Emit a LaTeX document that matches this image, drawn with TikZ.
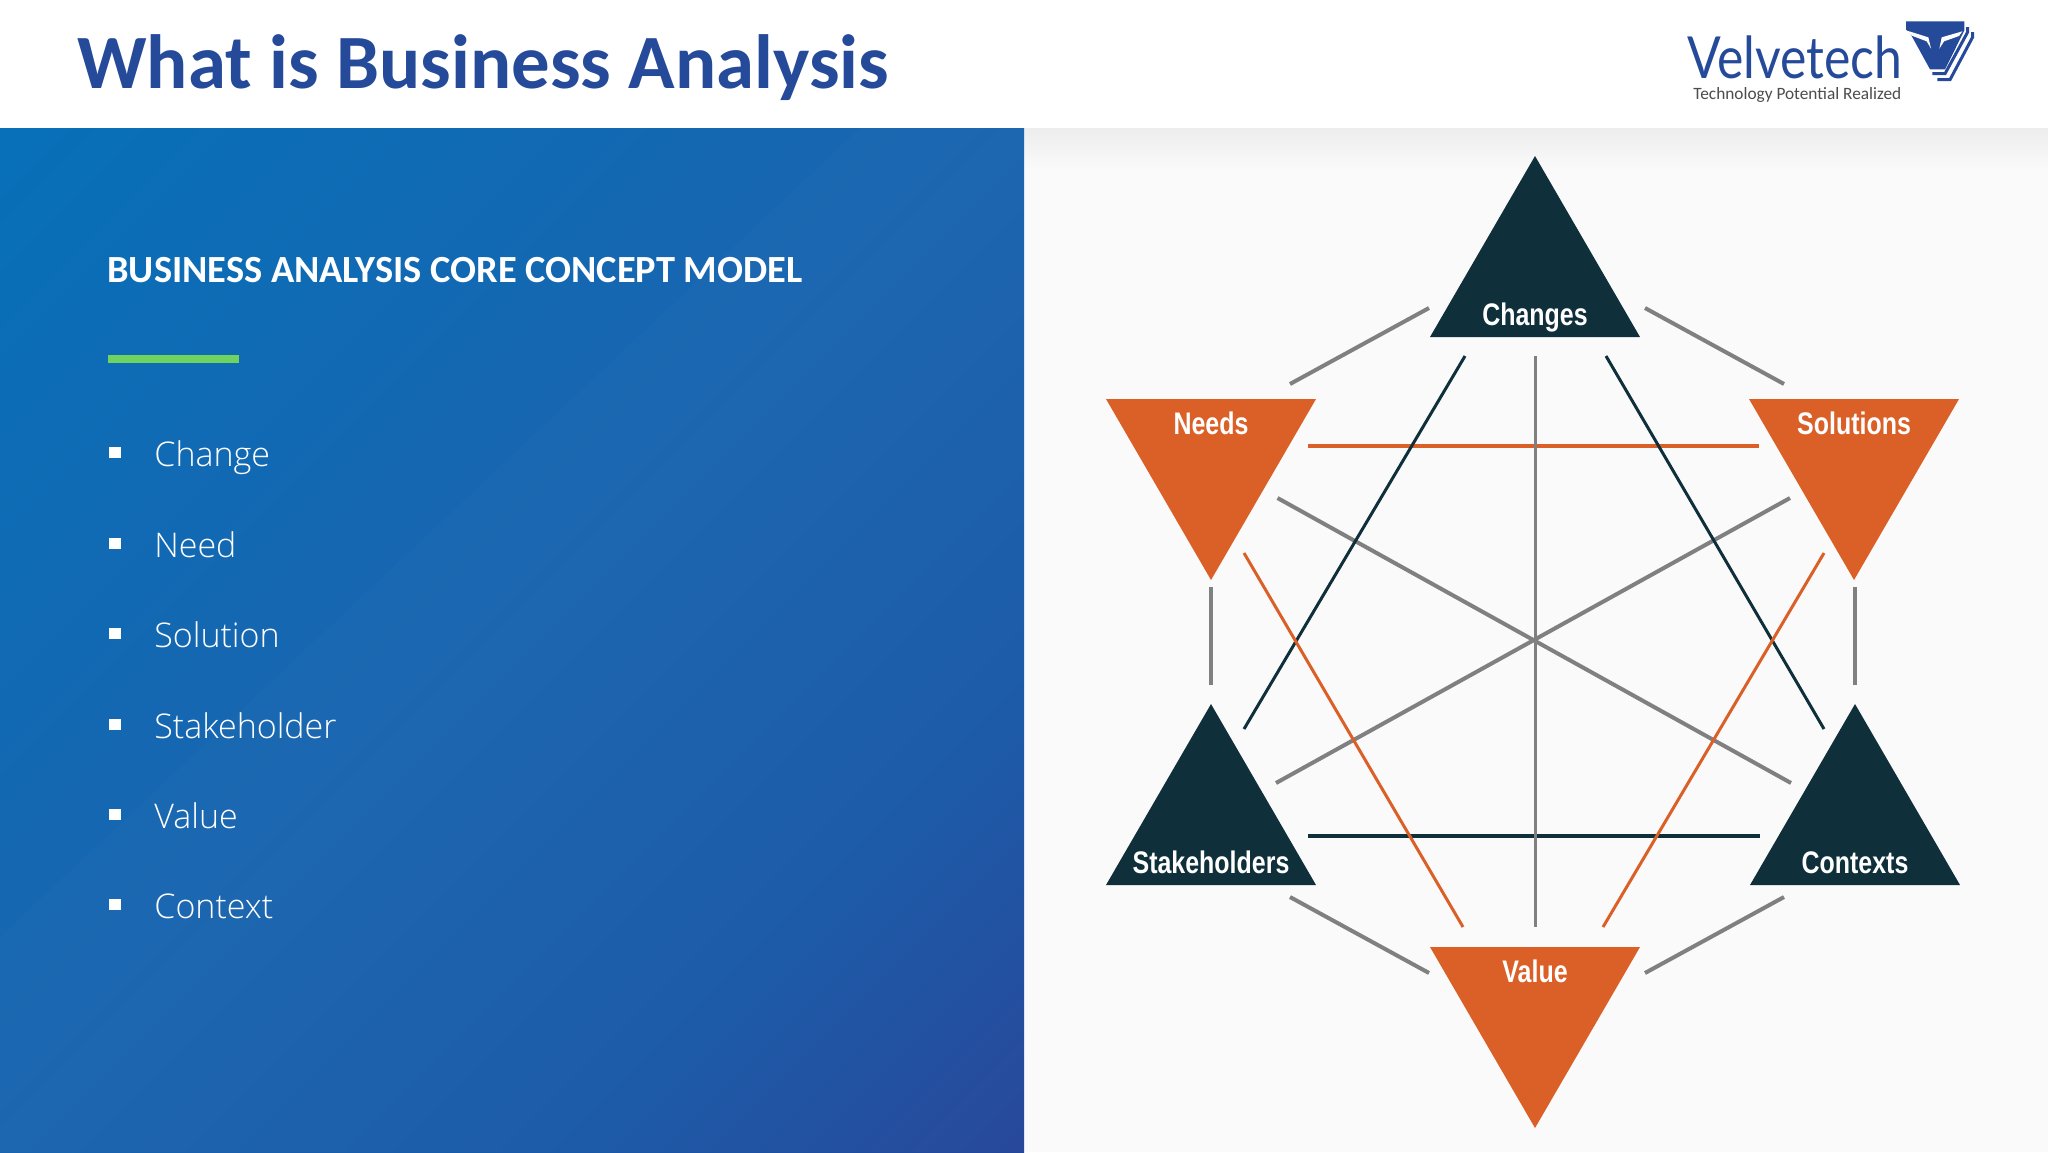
\documentclass[tikz,border=0pt]{standalone}
\usepackage{fontspec}
\usetikzlibrary{shapes.geometric}
\setmainfont{Carlito}
\newfontfamily\bodyf{Open Sans Light}
\newfontfamily\trif[FakeStretch=0.8]{Liberation Sans}
\newfontfamily\logof[FakeStretch=0.86]{Lato}
\definecolor{navy}{HTML}{264A9A}
\definecolor{teal}{HTML}{0F2F3A}
\definecolor{orng}{HTML}{DB6027}
\definecolor{lnk}{HTML}{808080}
\definecolor{pg}{HTML}{FAFAFA}
\definecolor{bTL}{HTML}{0770B8}
\definecolor{bM}{HTML}{1A64AF}
\definecolor{bD}{HTML}{1A59A7}
\definecolor{bBR}{HTML}{25479A}
\definecolor{barg}{HTML}{6FD45F}
\pgfdeclareverticalshading{bluepanel}{100bp}{color(0bp)=(bBR); color(15bp)=(bBR); color(30bp)=(bD); color(50bp)=(bM); color(85bp)=(bTL); color(100bp)=(bTL)}
\tikzset{
  tri/.style={isosceles triangle, isosceles triangle stretches, inner sep=0pt, outer sep=0pt, minimum width=105pt, minimum height=90.5pt, draw=none},
  triup/.style={tri, fill=teal, shape border rotate=90, anchor=apex},
  tridown/.style={tri, fill=orng, shape border rotate=270, anchor=apex},
  trilabel/.style={text=white, font=\trif\bfseries\fontsize{15.6}{18}\selectfont, inner sep=0pt, anchor=base},
  graylink/.style={draw=lnk, line width=2pt},
  graythin/.style={draw=lnk, line width=1.5pt},
  darklink/.style={draw=teal, line width=1.5pt},
  darkbar/.style={draw=teal, line width=2pt},
  orlink/.style={draw=orng, line width=1.5pt},
  orbar/.style={draw=orng, line width=2pt},
  item/.style={text=white, font=\bodyf\fontsize{17}{20}\selectfont, inner sep=0pt, anchor=base west},
  bullet/.style={fill=white, draw=none, inner sep=0pt, minimum width=6pt, minimum height=5.5pt, anchor=center},
}
\begin{document}
\begin{tikzpicture}[x=0.5pt,y=-0.5pt]
\useasboundingbox (0,0) rectangle (2048,1152);
\fill[white] (0,0) rectangle (2048,128);
\fill[pg] (1024,128) rectangle (2048,1152);
\shade[top color=black!7, bottom color=pg] (1024,128) rectangle (2048,170);
\shade[shading=bluepanel, shading angle=45] (0,128) rectangle (1024,1152);
\fill[white, opacity=0.015] (0,937) -- (860,128) -- (1024,128) -- (1024,1152) -- (0,1152) -- cycle;
% header
\node[text=navy, font=\bfseries\fontsize{38.4}{44}\selectfont, inner sep=0pt, anchor=base west] (title) at (77,88) {What is Business Analysis};
% logo
\node[text=navy, font=\logof\fontsize{29}{32}\selectfont, inner sep=0pt, anchor=base west] (brand) at (1687,78) {Velvetech};
\node[text=black!70, font=\fontsize{8.65}{10}\selectfont, inner sep=0pt, anchor=base west] (tag) at (1693,99) {Technology Potential Realized};
\begin{scope}[shift={(1895,12)}, x=0.1667pt, y=-0.1667pt]
\fill[navy] (33,28) -- (208,28) -- (208,55) -- (150,172) -- (105,172) -- (50,72) -- (33,53) -- cycle;
\fill[white] (33,55) -- (100,76) -- (108,110) -- (95,88) -- (48,70) -- cycle;
\fill[white] (202,58) -- (140,76) -- (133,110) -- (147,88) -- (192,72) -- cycle;
\draw[navy, line width=1.5pt] (218,45) -- (218,60) -- (150,185) -- (112,185);
\draw[navy, line width=1.5pt] (233,60) -- (233,75) -- (165,203) -- (127,203);
\end{scope}
% left panel
\node[text=white, font=\bfseries\fontsize{19.2}{22}\selectfont, inner sep=0pt, anchor=base west] (heading) at (107,282) {BUSINESS ANALYSIS CORE CONCEPT MODEL};
\fill[barg] (108,355) rectangle (239,363);
\foreach \nm/\txt/\y in {a/Change/466,b/Need/557,c/Solution/647,d/Stakeholder/738,e/Value/828,f/Context/918}{
  \node[item] (item\nm) at (154,\y) {\txt};
  \node[bullet] (bul\nm) at (114.5,\y-14) {};
}
% triangles
\node[triup] (changes) at (1535,156) {};
\node[tridown] (needs) at (1211,580) {};
\node[tridown] (solutions) at (1854,580) {};
\node[triup] (stakeholders) at (1211,704) {};
\node[triup] (contexts) at (1855,704) {};
\node[tridown] (value) at (1535,1128) {};
\node[trilabel] (lchanges) at (1535,325) {Changes};
\node[trilabel] (lneeds) at (1211,434) {Needs};
\node[trilabel] (lsolutions) at (1854,434) {Solutions};
\node[trilabel] (lstakeholders) at (1211,873) {Stakeholders};
\node[trilabel] (lcontexts) at (1855,873) {Contexts};
\node[trilabel] (lvalue) at (1535,982) {Value};
% connector ends
\coordinate (c-n) at (1429,308); \coordinate (n-c) at (1290,384);
\coordinate (c-s) at (1645,308); \coordinate (s-c) at (1784,384);
\coordinate (n-k) at (1211,587); \coordinate (k-n) at (1211,685);
\coordinate (s-x) at (1855,587); \coordinate (x-s) at (1855,685);
\coordinate (k-v) at (1290,897); \coordinate (v-k) at (1429,973);
\coordinate (x-v) at (1784,897); \coordinate (v-x) at (1645,973);
\coordinate (c-v) at (1535,356); \coordinate (v-c) at (1535,927);
\coordinate (n-x) at (1277.5,498); \coordinate (x-n) at (1791,783);
\coordinate (s-k) at (1790,498); \coordinate (k-s) at (1276,783);
\coordinate (c-k) at (1465,356); \coordinate (k-c) at (1244,729);
\coordinate (c-x) at (1606,356); \coordinate (x-c) at (1824,729);
\coordinate (n-v) at (1244,553); \coordinate (v-n) at (1463,927);
\coordinate (s-v) at (1824,553); \coordinate (v-s) at (1603,927);
\coordinate (n-s) at (1308,446); \coordinate (s-n) at (1759,446);
\coordinate (k-x) at (1308,836); \coordinate (x-k) at (1760,836);
% connectors
\draw[graylink] (c-n) -- (n-c);
\draw[graylink] (c-s) -- (s-c);
\draw[graylink] (n-k) -- (k-n);
\draw[graylink] (s-x) -- (x-s);
\draw[graylink] (k-v) -- (v-k);
\draw[graylink] (x-v) -- (v-x);
\draw[graylink] (n-x) -- (x-n);
\draw[graylink] (s-k) -- (k-s);
\draw[orbar] (n-s) -- (s-n);
\draw[darkbar] (k-x) -- (x-k);
\draw[graythin] (c-v) -- (v-c);
\draw[darklink] (c-k) -- (k-c);
\draw[darklink] (c-x) -- (x-c);
\draw[orlink] (n-v) -- (v-n);
\draw[orlink] (s-v) -- (v-s);
\end{tikzpicture}
\end{document}
